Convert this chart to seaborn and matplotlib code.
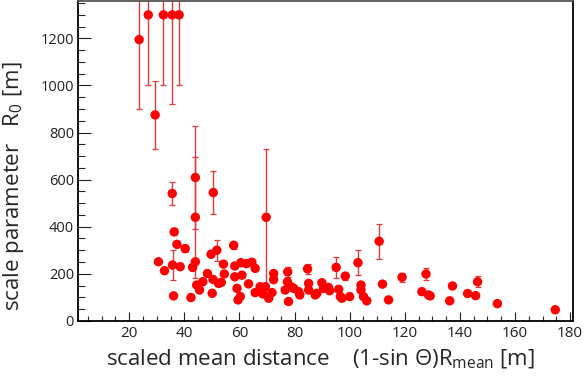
import numpy as np
import pandas as pd
import matplotlib
matplotlib.use("Agg")
import matplotlib.pyplot as plt
import seaborn as sns

# scaled mean distance (1 - sin theta) * R_mean [m]
dist = [23.6, 26.9, 29.4, 32.4, 35.6, 38.1, 35.6, 44.0, 44.0, 50.5, 69.7,
        30.6, 32.8, 36.3, 37.3, 35.7, 38.5, 40.3, 36.1, 42.4, 43.0,
        44.0, 44.5, 45.5, 46.7, 48.4, 49.7, 51.8, 50.4, 50.1, 52.4,
        53.4, 54.2, 54.5, 57.9, 58.3, 58.3, 59.1, 59.5, 60.3, 60.5,
        60.9, 62.5, 63.3, 64.5, 65.7, 65.7, 67.5, 68.5, 69.4, 70.6,
        71.8, 72.4, 72.4, 76.6, 77.8, 77.5, 77.4, 78.7, 79.7, 81.5,
        81.9, 84.7, 85.1, 85.1, 87.5, 88.1, 89.9, 90.5, 92.3, 92.7,
        95.1, 96.0, 96.6, 97.2, 98.4, 100.0, 103.0, 104.1, 104.1, 105.0,
        106.2, 110.7, 111.9, 114.1, 119.0, 126.2, 127.7, 128.6, 129.2, 136.3,
        137.3, 142.8, 145.7, 146.4, 153.6, 174.6]

# scale parameter R0 [m]
r0 = [1195, 1300, 875, 1300, 1300, 1300, 541, 609, 440, 545, 440,
      251, 213, 378, 325, 237, 230, 307, 106, 99, 227,
      251, 152, 131, 166, 201, 283, 300, 176, 117, 159,
      163, 241, 199, 321, 233, 187, 138, 89, 103, 247,
      194, 243, 157, 249, 223, 120, 145, 114, 145, 96,
      120, 201, 175, 131, 82, 208, 166, 145, 138, 124,
      110, 221, 159, 131, 110, 117, 162, 138, 142, 128,
      227, 134, 103, 96, 190, 103, 247, 152, 131, 103,
      85, 338, 156, 89, 185, 124, 199, 110, 106, 85,
      148, 116, 107, 166, 73, 47]

# error on R0 [m]
r0_err = [295, 300, 145, 300, 380, 300, 50, 220, 258, 93, 290,
          0, 0, 15, 12, 63, 0, 15, 0, 0, 0,
          0, 0, 0, 0, 0, 12, 45, 0, 0, 0,
          0, 0, 0, 15, 0, 0, 0, 0, 0, 12,
          0, 12, 0, 10, 12, 0, 0, 0, 0, 0,
          0, 12, 0, 0, 0, 22, 0, 0, 0, 0,
          0, 20, 0, 0, 0, 0, 0, 0, 0, 0,
          43, 0, 0, 0, 18, 0, 53, 0, 0, 0,
          0, 74, 0, 0, 20, 0, 27, 0, 0, 0,
          0, 0, 0, 23, 0, 0]

df = pd.DataFrame({"dist": dist, "r0": r0, "err": r0_err})

sns.set_style("ticks")
plt.rcParams["font.family"] = ["Open Sans", "DejaVu Sans"]
plt.rcParams["mathtext.fontset"] = "custom"
plt.rcParams["mathtext.rm"] = "Open Sans"
plt.rcParams["mathtext.it"] = "Open Sans"

fig = plt.figure(figsize=(5.84, 3.77), dpi=100)
ax = fig.add_axes([0.134, 0.149, 0.847, 0.849])

eb = df[df["err"] > 0]
ax.errorbar(eb["dist"], eb["r0"], yerr=eb["err"], fmt="none",
            ecolor="#e23a3a", elinewidth=1.0, capsize=2.5, capthick=0.9, zorder=2)
sns.scatterplot(data=df, x="dist", y="r0", ax=ax, color="#ff0000",
                s=46, edgecolor="none", zorder=3, legend=False)

ax.set_xlim(1.5, 181)
ax.set_ylim(0, 1360)
ax.set_xticks(np.arange(20, 181, 20))
ax.set_xticks(np.arange(5, 181, 5), minor=True)
ax.set_yticks(np.arange(0, 1201, 200))
ax.set_yticks(np.arange(0, 1351, 50), minor=True)

ax.tick_params(axis="x", which="major", direction="in", length=6.5, width=0.8,
               labelsize=11, pad=4, colors="#222222")
ax.tick_params(axis="x", which="minor", direction="in", length=3.5, width=0.8)
ax.tick_params(axis="y", which="major", direction="in", length=9, width=0.8,
               labelsize=10.5, pad=3, colors="#222222")
ax.tick_params(axis="y", which="minor", direction="in", length=5, width=0.8)

for side in ["left", "bottom", "right"]:
    ax.spines[side].set_visible(True)
    ax.spines[side].set_color("black")
    ax.spines[side].set_linewidth(1.3)
ax.spines["top"].set_visible(True)
ax.spines["top"].set_color("#555555")
ax.spines["top"].set_linewidth(1.3)

ax.set_xlabel(r"scaled mean distance    (1-sin $\Theta$)R$_{\rm mean}$ [m]",
              fontsize=16)
ax.set_ylabel(r"scale parameter   R$_0$ [m]", fontsize=16)
ax.xaxis.set_label_coords(0.49, -0.085)
ax.yaxis.set_label_coords(-0.105, 0.42)

fig.savefig("out.png", dpi=100, facecolor="white")
